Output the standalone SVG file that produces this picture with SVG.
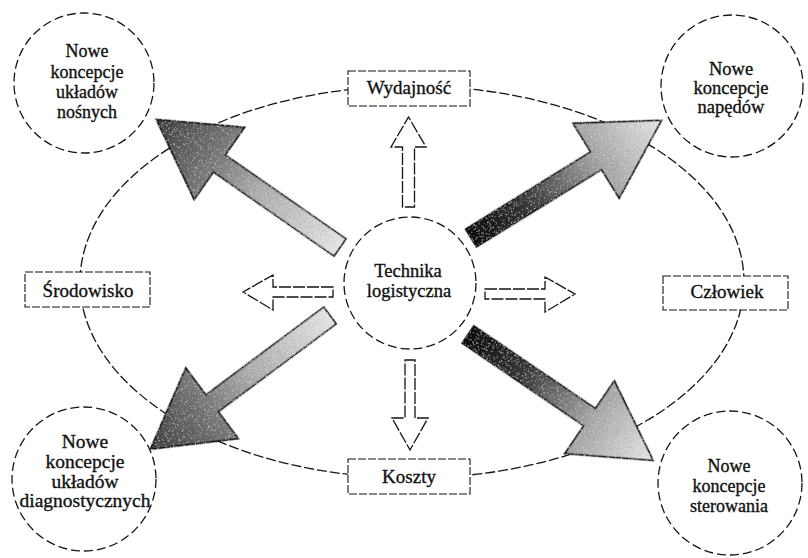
<svg xmlns="http://www.w3.org/2000/svg" width="808" height="558" viewBox="0 0 808 558">
  <style>
    text { font-family: "Liberation Serif", "DejaVu Serif", "Times New Roman", serif; fill: #111; stroke: #111; stroke-width: 0.35; text-anchor: middle; }
    .ring { fill: none; stroke: #151515; stroke-width: 1.3; stroke-dasharray: 10 3; }
    .circ { fill: #fff; stroke: #151515; stroke-width: 1.3; stroke-dasharray: 9 4; }
    .box { fill: #fff; stroke: #151515; stroke-width: 1.1; stroke-dasharray: 8 2; }
    .hollow { fill: #fff; stroke: #151515; stroke-width: 1.3; stroke-dasharray: 12 2; }
    .big { stroke: #111; stroke-width: 1.6; stroke-linejoin: miter; }
  </style>
  <defs>
    <linearGradient id="darkHead" x1="0" y1="0" x2="1" y2="0">
      <stop offset="0" stop-color="#e4e4e4"/>
      <stop offset="0.45" stop-color="#ababab"/>
      <stop offset="0.7" stop-color="#747474"/>
      <stop offset="1" stop-color="#3e3e3e"/>
    </linearGradient>
    <linearGradient id="darkTail" x1="0" y1="0" x2="1" y2="0">
      <stop offset="0" stop-color="#0a0a0a"/>
      <stop offset="0.3" stop-color="#383838"/>
      <stop offset="0.65" stop-color="#a2a2a2"/>
      <stop offset="1" stop-color="#e6e6e6"/>
    </linearGradient>
    <filter id="grain" x="-5%" y="-5%" width="110%" height="110%">
      <feTurbulence type="fractalNoise" baseFrequency="0.85" numOctaves="1" seed="7" result="n"/>
      <feColorMatrix in="n" type="matrix" values="0 0 0 0 1  0 0 0 0 1  0 0 0 0 1  3.5 0 0 0 -2.1" result="w"/>
      <feColorMatrix in="n" type="matrix" values="0 0 0 0 0  0 0 0 0 0  0 0 0 0 0  -3.5 0 0 0 1.3" result="b"/>
      <feComposite in="w" in2="SourceGraphic" operator="in" result="wd"/>
      <feComposite in="b" in2="SourceGraphic" operator="in" result="bd"/>
      <feMerge><feMergeNode in="SourceGraphic"/><feMergeNode in="wd"/><feMergeNode in="bd"/></feMerge>
    </filter>
    <path id="bigArrow" d="M0,-10.5 H147 V-44 L224,0 L147,44 V10.5 H0 Z"/>
  </defs>
  <rect width="808" height="558" fill="#fff"/>

  <g id="connectors">
    <ellipse class="ring" cx="412" cy="282" rx="332" ry="196"/>
    <path class="hollow" d="M402.5,207 V147 H391 L408.5,117 L426,147 H414.5 V207 Z"/>
    <path class="hollow" d="M405,360 H415 V418 H428 L410,450 L392,418 H405 Z"/>
    <path class="hollow" d="M333,287 H273 V275 L243,292 L273,310 V297 H333 Z"/>
    <path class="hollow" d="M485,289 H545 V277 L575,294 L545,312 V299 H485 Z"/>
    <use href="#bigArrow" class="big" fill="url(#darkHead)" filter="url(#grain)" transform="translate(340,247.5) rotate(214.87)"/>
    <use href="#bigArrow" class="big" fill="url(#darkTail)" filter="url(#grain)" transform="translate(471,238) rotate(-31.7)"/>
    <use href="#bigArrow" class="big" fill="url(#darkHead)" filter="url(#grain)" transform="translate(330,315.5) rotate(143.34)"/>
    <use href="#bigArrow" class="big" fill="url(#darkTail)" filter="url(#grain)" transform="translate(468,334.5) rotate(34.22)"/>
  </g>

  <g id="technika">
    <circle class="circ" cx="410" cy="283" r="66"/>
    <text font-size="18.5" x="408" y="277">Technika</text>
    <text font-size="18.5" x="409" y="297">logistyczna</text>
  </g>

  <g id="wydajnosc">
    <rect class="box" x="348" y="71" width="122" height="35"/>
    <text font-size="19" x="409" y="94">Wydajność</text>
  </g>
  <g id="koszty">
    <rect class="box" x="348" y="459" width="122" height="35"/>
    <text font-size="19" x="409" y="483">Koszty</text>
  </g>
  <g id="srodowisko">
    <rect class="box" x="25" y="272" width="125" height="35"/>
    <text font-size="19" x="88" y="297">Środowisko</text>
  </g>
  <g id="czlowiek">
    <rect class="box" x="663" y="276" width="125" height="34"/>
    <text font-size="19" x="727" y="298">Człowiek</text>
  </g>

  <g id="nosne">
    <circle class="circ" cx="84" cy="83" r="70"/>
    <text font-size="18" x="87" y="57">Nowe</text>
    <text font-size="18" x="87" y="77.5">koncepcje</text>
    <text font-size="18" x="87" y="98">układów</text>
    <text font-size="18" x="87" y="118">nośnych</text>
  </g>
  <g id="napedy">
    <circle class="circ" cx="732" cy="86" r="71"/>
    <text font-size="18.5" x="731" y="75">Nowe</text>
    <text font-size="18.5" x="731" y="94">koncepcje</text>
    <text font-size="18.5" x="731" y="113">napędów</text>
  </g>
  <g id="diagnostyka">
    <circle class="circ" cx="84" cy="479" r="72"/>
    <text font-size="19.5" x="85" y="448">Nowe</text>
    <text font-size="19.5" x="85" y="468">koncepcje</text>
    <text font-size="19.5" x="85" y="488">układów</text>
    <text font-size="19.5" x="85" y="507">diagnostycznych</text>
  </g>
  <g id="sterowanie">
    <circle class="circ" cx="730" cy="483" r="72"/>
    <text font-size="18" x="729" y="472">Nowe</text>
    <text font-size="18" x="729" y="492">koncepcje</text>
    <text font-size="18" x="729" y="512">sterowania</text>
  </g>
</svg>
